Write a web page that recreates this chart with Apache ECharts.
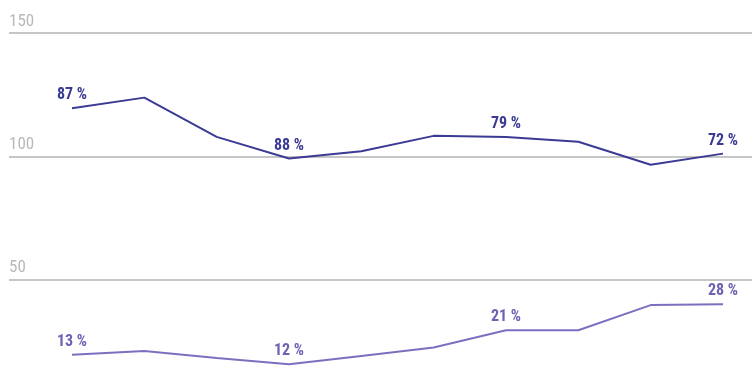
<!DOCTYPE html>
<html><head><meta charset="utf-8">
<script src="https://cdn.jsdelivr.net/npm/echarts@6/dist/echarts.min.js"></script>
<style>html,body{margin:0;padding:0;background:#fff;overflow:hidden;width:754px;height:385px}#c{width:754px;height:405px}</style>
</head><body><div id="c"></div>
<script>
const categories = ['1','2','3','4','5','6','7','8','9','10'];
const darkValues = [119.5, 123.8, 107.9, 99.1, 102.1, 108.3, 107.8, 105.9, 96.6, 101.1];
const lightValues = [19.6, 21.1, 18.2, 15.7, 19.1, 22.5, 29.5, 29.5, 39.7, 40.0];
const darkLabels = ['87 %', '', '', '88 %', '', '', '79 %', '', '', '72 %'];
const lightLabels = ['13 %', '', '', '12 %', '', '', '21 %', '', '', '28 %'];
const yTicks = [0, 50, 100, 150];

const FONT = '"Liberation Sans Narrow", "Roboto Condensed", "Roboto", sans-serif';
const DARK = '#3b3a94';
const LIGHT = '#7b70c0';

function mk(values, labels) {
  return values.map((v, i) => ({
    value: v,
    label: {show: !!labels[i], formatter: labels[i] || ''}
  }));
}

const chart = echarts.init(document.getElementById('c'), null, {renderer: 'canvas'});
chart.setOption({
  animation: false,
  grid: [
    {left: 9, right: 2, top: 33, bottom: 2},
    {left: 72, right: 31, top: 33, bottom: 2}
  ],
  xAxis: [
    {gridIndex: 0, type: 'category', data: categories, show: false},
    {gridIndex: 1, type: 'category', data: categories, boundaryGap: false, show: false}
  ],
  yAxis: [
    {gridIndex: 0, type: 'value', min: yTicks[0], max: yTicks[yTicks.length-1], interval: 50,
     axisLine: {show: false}, axisTick: {show: false},
     splitLine: {show: true, lineStyle: {color: '#b3b3b3', width: 1.5}},
     axisLabel: {inside: true, margin: 0, verticalAlign: 'bottom', padding: [0,0,3,0],
       color: '#b8b8b8', fontFamily: FONT, fontSize: 17,
       formatter: v => v === 0 ? '' : String(v)}},
    {gridIndex: 1, type: 'value', min: yTicks[0], max: yTicks[yTicks.length-1], show: false, splitLine: {show: false}}
  ],
  series: [
    {type: 'line', xAxisIndex: 1, yAxisIndex: 1, data: mk(darkValues, darkLabels),
     symbol: 'circle', symbolSize: 0, showSymbol: true, lineStyle: {color: DARK, width: 2}, itemStyle: {color: DARK},
     label: {position: 'top', distance: 5, color: DARK, fontFamily: FONT, fontWeight: 'bold', fontSize: 16}},
    {type: 'line', xAxisIndex: 1, yAxisIndex: 1, data: mk(lightValues, lightLabels),
     symbol: 'circle', symbolSize: 0, showSymbol: true, lineStyle: {color: LIGHT, width: 2}, itemStyle: {color: LIGHT},
     label: {position: 'top', distance: 5, color: '#6d63b3', fontFamily: FONT, fontWeight: 'bold', fontSize: 16}}
  ]
});
</script></body></html>
